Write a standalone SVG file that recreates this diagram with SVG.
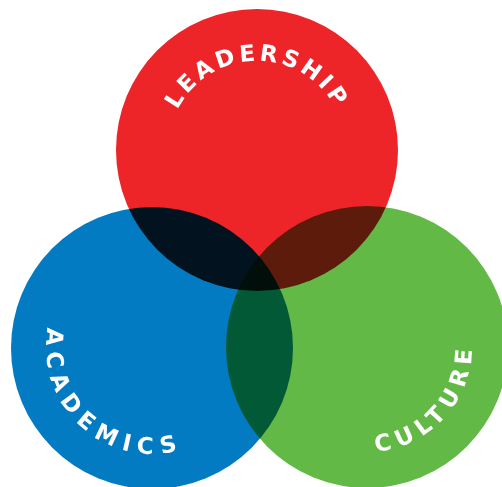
<svg xmlns="http://www.w3.org/2000/svg" width="502" height="487" viewBox="0 0 502 487">
<style>
.c{mix-blend-mode:multiply}
.t{font-family:"DejaVu Sans","Liberation Sans",Arial,sans-serif;font-weight:bold;font-size:23px;fill:#ffffff}
</style>
<defs>
<path id="pRed" d="M169.4,165.5 A89,89 0 1 1 344.6,165.5" fill="none"/>
<path id="pBlue" d="M86.0,265.0 A106,106 0 1 0 242.4,403.4" fill="none"/>
<path id="pGreen" d="M284.8,412.4 A105,105 0 1 0 421.9,257.5" fill="none"/>
</defs>
<rect x="0" y="0" width="502" height="487" fill="#ffffff"/>
<g id="leadership">
<circle class="c" cx="257" cy="150" r="141" fill="#ED2528"/>
</g>
<g id="academics">
<circle class="c" cx="152" cy="348" r="141" fill="#037BC2"/>
</g>
<g id="culture">
<circle class="c" cx="367" cy="347" r="141" fill="#63B946"/>
</g>
<g id="labels">
<text class="t" letter-spacing="3.5"><textPath href="#pRed" startOffset="50%" text-anchor="middle">LEADERSHIP</textPath></text>
<text class="t" letter-spacing="7.5"><textPath href="#pBlue" startOffset="50%" text-anchor="middle">ACADEMICS</textPath></text>
<text class="t" letter-spacing="6.5"><textPath href="#pGreen" startOffset="50%" text-anchor="middle">CULTURE</textPath></text>
</g>
<g id="connectors"/>
</svg>
